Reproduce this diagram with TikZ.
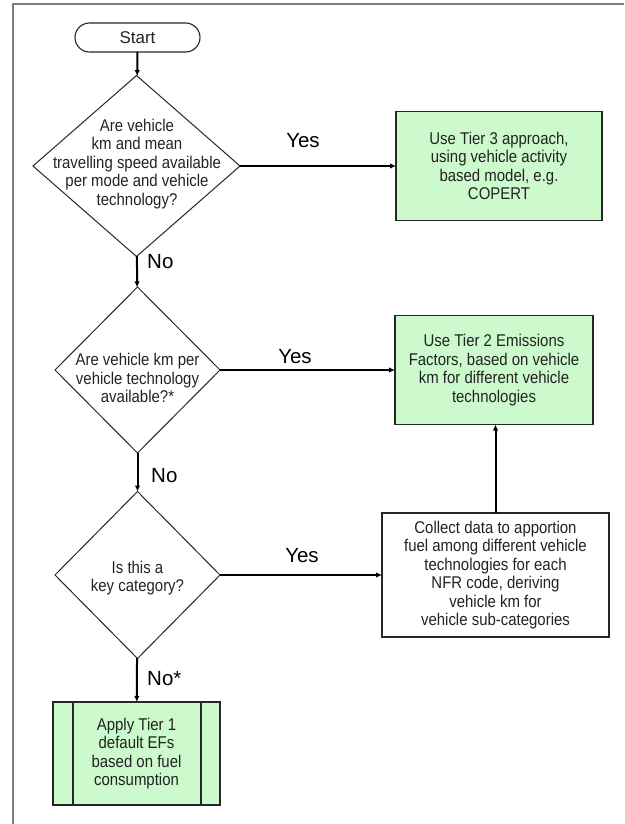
\documentclass[tikz,border=0pt]{standalone}
\usepackage{fontspec}
\setmainfont{Liberation Sans}[FakeStretch=0.88]
\newfontfamily\answerfont{Liberation Sans}
\usetikzlibrary{shapes.geometric,arrows.meta}
\definecolor{tiergreen}{RGB}{204,250,204}
\definecolor{framegray}{RGB}{125,125,125}
\definecolor{inkgray}{RGB}{35,35,35}

\begin{document}
\begin{tikzpicture}[x=1pt,y=-1pt,
  boxtext/.style={font=\fontsize{17}{18.5}\selectfont,text=inkgray,align=center,inner sep=0pt},
  tierbox/.style={draw=black!85,line width=1.1pt,fill=tiergreen,inner sep=0pt,outer sep=0pt},
  plainbox/.style={draw=black!85,line width=1.1pt,fill=white,inner sep=0pt,outer sep=0pt},
  decision/.style={diamond,draw=black!85,line width=1pt,inner sep=0pt,outer sep=0pt},
  answer/.style={font=\answerfont\fontsize{20.5}{22}\selectfont,text=black,inner sep=0pt},
  flow/.style={line width=2pt,-{Latex[length=6pt,width=5.5pt]}}]
\useasboundingbox (0,0) rectangle (624,824);
\draw[framegray,line width=1.5pt] (13,824) -- (13,4) -- (624,4);

\node[plainbox,rounded corners=14.5pt,minimum width=125pt,minimum height=29pt,
  font=\answerfont\fontsize{17}{20}\selectfont,text=inkgray] (start) at (137.5,37.5) {Start};

\node[decision,minimum width=207pt,minimum height=181pt] (q1) at (136.5,166) {};
\node[boxtext] (q1text) at (137,164) {Are vehicle\\km and mean\\travelling speed available\\per mode and vehicle\\technology?};
\node[decision,minimum width=165pt,minimum height=166pt] (q2) at (137.5,370) {};
\node[boxtext] (q2text) at (137.5,378) {Are vehicle km per\\vehicle technology\\available?*};
\node[decision,minimum width=165pt,minimum height=167pt] (q3) at (137.5,575) {};
\node[boxtext] (q3text) at (137.5,578) {Is this a\\key category?};

\node[tierbox,boxtext,minimum width=206pt,minimum height=109pt] (tier3) at (499,166) {Use Tier 3 approach,\\using vehicle activity\\based model, e.g.\\COPERT};
\node[tierbox,boxtext,minimum width=198pt,minimum height=109pt] (tier2) at (494,370) {Use Tier 2 Emissions\\Factors, based on vehicle\\km for different vehicle\\technologies};
\node[plainbox,boxtext,minimum width=227pt,minimum height=124pt] (collect) at (495.5,575) {Collect data to apportion\\fuel among different vehicle\\technologies for each\\NFR code, deriving\\vehicle km for\\vehicle sub-categories};
\node[tierbox,boxtext,minimum width=167pt,minimum height=103pt,
  path picture={
    \draw[line width=1.1pt] ([xshift=20pt]path picture bounding box.north west) -- ([xshift=20pt]path picture bounding box.south west);
    \draw[line width=1.1pt] ([xshift=-19pt]path picture bounding box.north east) -- ([xshift=-19pt]path picture bounding box.south east);
  }] (tier1) at (136.5,753.5) {Apply Tier 1\\default EFs\\based on fuel\\consumption};

\draw[flow] (start) -- (q1);
\draw[flow] (q1) -- (q2);
\draw[flow] (q2) -- (q3);
\draw[flow] (q3) -- (tier1);
\draw[flow] (q1.east) -- (tier3.west);
\draw[flow] (q2.east) -- (tier2.west);
\draw[flow] (q3.east) -- (collect.west);
\draw[flow] (collect.north) -- (collect.north |- tier2.south);

\node[answer,anchor=base] (yes1) at (303,147) {Yes};
\node[answer,anchor=base] (yes2) at (295,363) {Yes};
\node[answer,anchor=base] (yes3) at (302,562) {Yes};
\node[answer,anchor=base west] (no1) at (147,268) {No};
\node[answer,anchor=base west] (no2) at (151,482) {No};
\node[answer,anchor=base west] (no3) at (147,685) {No*};
\end{tikzpicture}
\end{document}
